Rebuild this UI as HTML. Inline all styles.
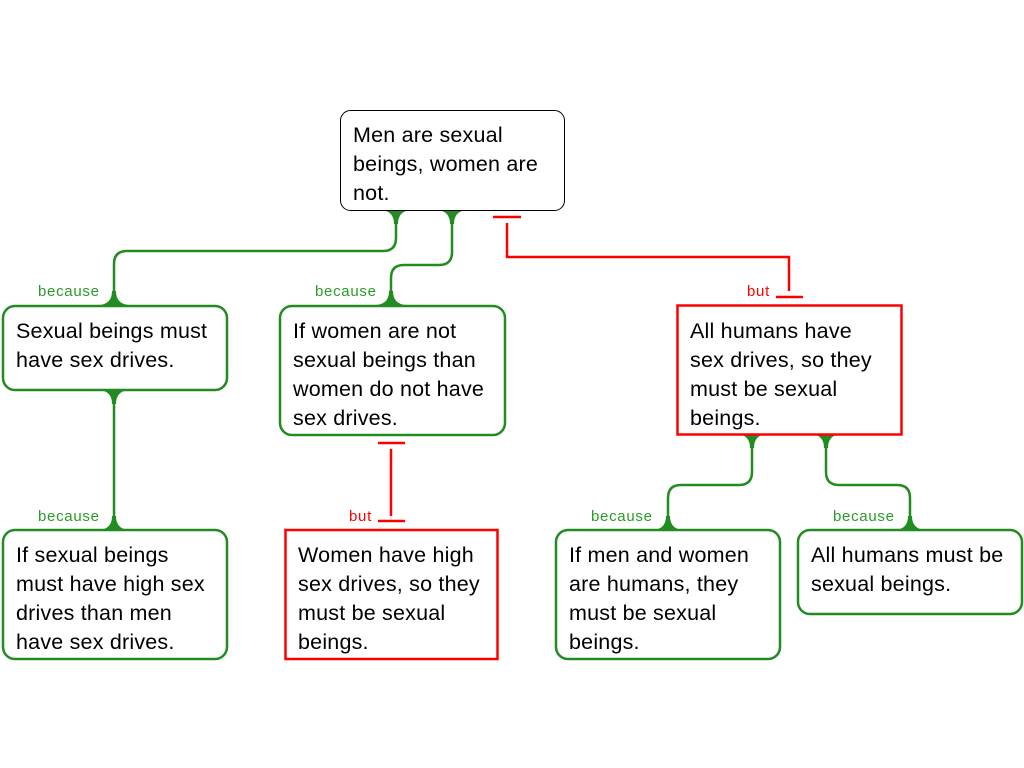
<!DOCTYPE html>
<html><head><meta charset="utf-8"><style>
html,body{margin:0;padding:0;background:#fff;width:1024px;height:768px;overflow:hidden}
svg{display:block}
text{font-family:"Liberation Sans",Arial,sans-serif}
.t{font-size:21.5px;fill:#000;letter-spacing:0.2px}
.g{font-size:15px;fill:#2a9a2a;letter-spacing:0.7px}
.r{font-size:15px;fill:#ff0000;letter-spacing:0.7px}
</style></head><body>
<svg width="1024" height="768" viewBox="0 0 1024 768" xmlns="http://www.w3.org/2000/svg">
<g fill="none" stroke="#228B22" stroke-width="2.5">
<path d="M396 211 V238 Q396 251 383 251 H127 Q114 251 114 264 V305"/>
<path d="M452 211 V252 Q452 265 439 265 H404 Q391 265 391 278 V305"/>
<path d="M114 390 V530"/>
<path d="M752 435 V472 Q752 485 739 485 H681 Q668 485 668 498 V530"/>
<path d="M826 435 V472 Q826 485 839 485 H897 Q910 485 910 498 V530"/>
</g>
<g fill="#228B22">
<path d="M381 210 Q394 211 394 224 L398 224 Q398 211 411 210 Z"/>
<path d="M437 210 Q450 211 450 224 L454 224 Q454 211 467 210 Z"/>
<path d="M99 305 Q112 304 112 291 L116 291 Q116 304 129 305 Z"/>
<path d="M376 305 Q389 304 389 291 L393 291 Q393 304 406 305 Z"/>
<path d="M99 390 Q112 391 112 404 L116 404 Q116 391 129 390 Z"/>
<path d="M99 530 Q112 529 112 516 L116 516 Q116 529 129 530 Z"/>
<path d="M737 434 Q750 435 750 448 L754 448 Q754 435 767 434 Z"/>
<path d="M811 434 Q824 435 824 448 L828 448 Q828 435 841 434 Z"/>
<path d="M653 530 Q666 529 666 516 L670 516 Q670 529 683 530 Z"/>
<path d="M895 530 Q908 529 908 516 L912 516 Q912 529 925 530 Z"/>
</g>
<g fill="none" stroke="#ff0000" stroke-width="2.5">
<path d="M493 217 H521 M507 223 V257 H789 V291 M776 297 H803"/>
<path d="M378 443 H405 M391 449 V516 M378 521 H405"/>
</g>
<rect x="340.5" y="110.5" width="224" height="100" rx="10" fill="#fff" stroke="#000" stroke-width="1"/>
<g fill="#fff" stroke="#228B22" stroke-width="2.5">
<rect x="3" y="306" width="224" height="84" rx="12"/>
<rect x="280" y="306" width="225" height="129" rx="12"/>
<rect x="3" y="530" width="224" height="129" rx="12"/>
<rect x="556" y="530" width="224" height="129" rx="12"/>
<rect x="798" y="530" width="224" height="84" rx="12"/>
</g>
<g fill="#fff" stroke="#ff0000" stroke-width="2.5">
<rect x="677.5" y="305.5" width="224" height="129"/>
<rect x="285.5" y="530" width="212" height="129"/>
</g>
<text class="t" x="353" y="142">Men are sexual</text>
<text class="t" x="353" y="171">beings, women are</text>
<text class="t" x="353" y="200">not.</text>
<text class="t" x="16" y="338">Sexual beings must</text>
<text class="t" x="16" y="367">have sex drives.</text>
<text class="t" x="293" y="338">If women are not</text>
<text class="t" x="293" y="367">sexual beings than</text>
<text class="t" x="293" y="396">women do not have</text>
<text class="t" x="293" y="425">sex drives.</text>
<text class="t" x="690" y="338">All humans have</text>
<text class="t" x="690" y="367">sex drives, so they</text>
<text class="t" x="690" y="396">must be sexual</text>
<text class="t" x="690" y="425">beings.</text>
<text class="t" x="16" y="562">If sexual beings</text>
<text class="t" x="16" y="591">must have high sex</text>
<text class="t" x="16" y="620">drives than men</text>
<text class="t" x="16" y="649">have sex drives.</text>
<text class="t" x="298" y="562">Women have high</text>
<text class="t" x="298" y="591">sex drives, so they</text>
<text class="t" x="298" y="620">must be sexual</text>
<text class="t" x="298" y="649">beings.</text>
<text class="t" x="569" y="562">If men and women</text>
<text class="t" x="569" y="591">are humans, they</text>
<text class="t" x="569" y="620">must be sexual</text>
<text class="t" x="569" y="649">beings.</text>
<text class="t" x="811" y="562">All humans must be</text>
<text class="t" x="811" y="591">sexual beings.</text>
<text class="g" x="38" y="296">because</text>
<text class="g" x="315" y="296">because</text>
<text class="g" x="38" y="521">because</text>
<text class="g" x="591" y="521">because</text>
<text class="g" x="833" y="521">because</text>
<text class="r" x="747" y="296">but</text>
<text class="r" x="349" y="521">but</text>
</svg>
</body></html>
